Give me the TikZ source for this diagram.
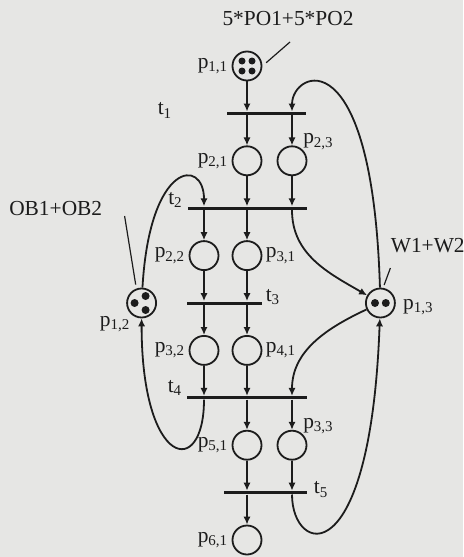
\documentclass[tikz,border=0pt]{standalone}
\usepackage{fontspec}
\setmainfont{Liberation Serif}
\usetikzlibrary{positioning, arrows.meta}
\definecolor{paper}{RGB}{230,230,228}
\definecolor{ink}{RGB}{28,28,28}

\begin{document}
\begin{tikzpicture}[
    % Define styles for places, transitions and arcs
        node distance=23.7pt,
        on grid,
        place/.style={draw=ink, circle, line width=0.9pt, minimum size=14.5pt, inner sep=0pt},
        bar/.style={fill=ink, rectangle, minimum height=1.5pt, inner sep=0pt},
        lbl/.style={on grid=false, inner sep=1pt, text=ink, font=\fontsize{10.7}{12}\selectfont},
        link/.style={-{Latex[length=4pt, width=3.6pt]}, line width=0.9pt, draw=ink},
        note/.style={draw=ink, line width=0.6pt}
    ]

        % Paper
        \fill[paper] (0,0) rectangle (231.5pt,-278.5pt);
        \useasboundingbox (0,0) rectangle (231.5pt,-278.5pt);

        % Define the places of the main column
        \node[place] (p11) at (123.5pt,-33pt) {};
        \node[place, below=47.4pt of p11] (p21) {};
        \node[place, below=47.4pt of p21] (p31) {};
        \node[place, below=47.4pt of p31] (p41) {};
        \node[place, below=47.4pt of p41] (p51) {};
        \node[place, below=47.4pt of p51] (p61) {};

        % Define the transitions
        \node[bar, minimum width=39.5pt, below=of p11, xshift=9.75pt] (t1) {};
        \node[bar, minimum width=59.5pt, below=of p21] (t2) {};
        \node[bar, minimum width=37.5pt, below=of p31, xshift=-11.25pt] (t3) {};
        \node[bar, minimum width=60pt, below=of p41] (t4) {};
        \node[bar, minimum width=41.5pt, below=of p51, xshift=9.25pt] (t5) {};

        % Side places
        \node[place, right=22.5pt of p21] (p23) {};
        \node[place, left=21.5pt of p31] (p22) {};
        \node[place, left=21.5pt of p41] (p32) {};
        \node[place, right=22.5pt of p51] (p33) {};
        \node[place, left=14.8pt of t3.west] (p12) {};
        \node[place, right=51.3pt of t3.east] (p13) {};

        % Tokens
        \foreach \dx/\dy in {-2.5/2.5, 2.5/2.5, -2.5/-2.5, 2.5/-2.5}
            \fill[ink] ([shift={(\dx pt,\dy pt)}]p11.center) circle (1.75pt);
        \foreach \dx/\dy in {-3.5/0, 2/3.5, 2/-3.5}
            \fill[ink] ([shift={(\dx pt,\dy pt)}]p12.center) circle (2pt);
        \foreach \dx in {-2.7, 2.7}
            \fill[ink] ([shift={(\dx pt,0pt)}]p13.center) circle (2pt);

        % Place labels
        \node[lbl, left=0.5pt of p11] (l11) {p\textsubscript{1,1}};
        \node[lbl, left=0.5pt of p21] (l21) {p\textsubscript{2,1}};
        \node[lbl, above right=-1pt and -1pt of p23.north east] (l23) {p\textsubscript{2,3}};
        \node[lbl, left=0.5pt of p22] (l22) {p\textsubscript{2,2}};
        \node[lbl, right=0.5pt of p31] (l31) {p\textsubscript{3,1}};
        \node[lbl, right=0.5pt of p41] (l41) {p\textsubscript{4,1}};
        \node[lbl, left=0.5pt of p32] (l32) {p\textsubscript{3,2}};
        \node[lbl, below left=0pt and -1pt of p12.south west] (l12) {p\textsubscript{1,2}};
        \node[lbl, right=2.5pt of p13, yshift=-2pt] (l13) {p\textsubscript{1,3}};
        \node[lbl, left=0.5pt of p51] (l51) {p\textsubscript{5,1}};
        \node[lbl, above right=-1pt and -1pt of p33.north east] (l33) {p\textsubscript{3,3}};
        \node[lbl, left=0.5pt of p61] (l61) {p\textsubscript{6,1}};

        % Transition labels
        \node[lbl, left=26pt of t1.west, yshift=1.5pt] (lt1) {t\textsubscript{1}};
        \node[lbl, above left=-1pt and 1pt of t2.west] (lt2) {t\textsubscript{2}};
        \node[lbl, above right=-2pt and 0.5pt of t3.east] (lt3) {t\textsubscript{3}};
        \node[lbl, above left=0pt and 1pt of t4.west] (lt4) {t\textsubscript{4}};
        \node[lbl, right=2pt of t5.east, yshift=1.5pt] (lt5) {t\textsubscript{5}};

        % Markings
        \coordinate[above right=12pt and 21.5pt of p11] (poend);
        \node[lbl, above=7pt of poend, xshift=-1pt] (po) {5*PO1+5*PO2};
        \draw[note, shorten <=2.5pt] (p11.east) -- (poend);

        \coordinate[above left=43.5pt and 8.5pt of p12] (obend);
        \node[lbl, left=10pt of obend, yshift=3.5pt] (ob) {OB1+OB2};
        \draw[note, shorten <=2pt] (p12.110) -- (obend);

        \coordinate[above right=17.5pt and 5pt of p13] (wend);
        \node[lbl, above right=6.5pt and -1pt of wend] (w) {W1+W2};
        \draw[note, shorten <=1.5pt] (p13.80) -- (wend);

        % Straight arcs
        \draw[link] (p11) -- (p11 |- t1.north);
        \draw[link] (p21 |- t1.south) -- (p21);
        \draw[link] (p23 |- t1.south) -- (p23);
        \draw[link] (p21) -- (p21 |- t2.north);
        \draw[link] (p23) -- (p23 |- t2.north);
        \draw[link] (p22 |- t2.south) -- (p22);
        \draw[link] (p31 |- t2.south) -- (p31);
        \draw[link] (p22) -- (p22 |- t3.north);
        \draw[link] (p31) -- (p31 |- t3.north);
        \draw[link] (p32 |- t3.south) -- (p32);
        \draw[link] (p41 |- t3.south) -- (p41);
        \draw[link] (p32) -- (p32 |- t4.north);
        \draw[link] (p41) -- (p41 |- t4.north);
        \draw[link] (p51 |- t4.south) -- (p51);
        \draw[link] (p33 |- t4.south) -- (p33);
        \draw[link] (p51) -- (p51 |- t5.north);
        \draw[link] (p33) -- (p33 |- t5.north);
        \draw[link] (p61 |- t5.south) -- (p61);

        % Curved arcs of the resource places
        \draw[link] (p12) .. controls +(4pt,71pt) and +(0,24.5pt) .. (p22 |- t2.north);
        \draw[link] (p32 |- t4.south) .. controls +(0,-40pt) and +(0,-82.5pt) .. (p12);
        \draw[link] (p23 |- t2.south) to[out=-90, in=150] (p13);
        \draw[link] (p13) .. controls +(-4pt,134pt) and +(0,20.5pt) .. (p23 |- t1.north);
        \draw[link] (p13) to[out=205, in=90] (p33 |- t4.north);
        \draw[link] (p33 |- t5.south) .. controls +(0,-30pt) and +(-5pt,-137pt) .. (p13);
    \end{tikzpicture}
\end{document}
